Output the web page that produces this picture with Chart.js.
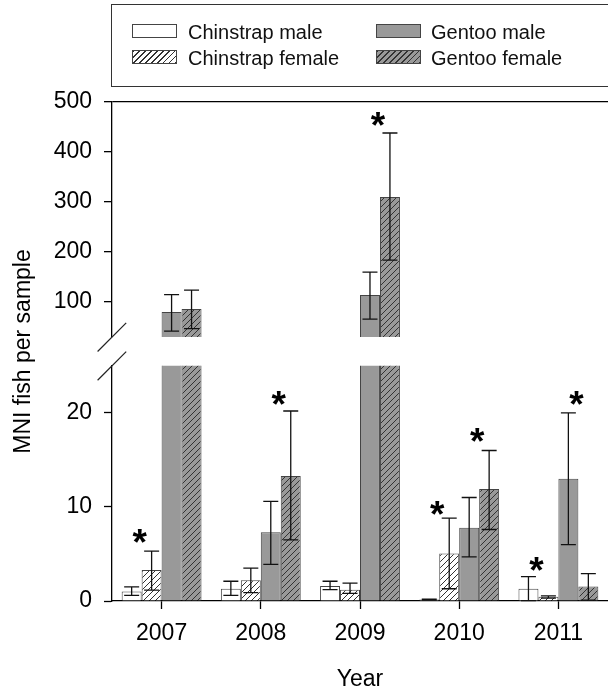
<!DOCTYPE html>
<html>
<head>
<meta charset="utf-8">
<script src="https://cdn.jsdelivr.net/npm/chart.js@4.4.1/dist/chart.umd.min.js"></script>
<style>
  body { margin: 0; background: #fff; overflow: hidden; font-family: 'Liberation Sans', Arial, sans-serif; }
  #wrap { position: absolute; left: 0; top: 0; width: 608px; height: 696px; }
  #legend { position: absolute; left: 111px; top: 4px; width: 530px; height: 83px; border: 1.5px solid #333; box-sizing: border-box; }
  .sw { position: absolute; width: 45px; height: 14px; border: 1px solid #444; box-sizing: border-box; }
  .lab { position: absolute; font-size: 20px; line-height: 20px; color: #111; white-space: nowrap; }
</style>
</head>
<body>
<div id="wrap"><canvas id="chart"></canvas></div>
<div id="legend">
  <div class="sw" style="left:20px; top:19px; background:#fff"></div>
  <div class="lab" style="left:76px; top:17px">Chinstrap male</div>
  <div class="sw" style="left:20px; top:45px; background:repeating-linear-gradient(135deg,#333 0 1px,#fff 1px 4.2px)"></div>
  <div class="lab" style="left:76px; top:43px">Chinstrap female</div>
  <div class="sw" style="left:264px; top:19px; background:#999"></div>
  <div class="lab" style="left:319px; top:17px">Gentoo male</div>
  <div class="sw" style="left:264px; top:45px; background:repeating-linear-gradient(135deg,#333 0 1px,#999 1px 4.2px)"></div>
  <div class="lab" style="left:319px; top:43px">Gentoo female</div>
</div>
<script>
const years = ['2007', '2008', '2009', '2010', '2011'];

const chinstrapMale = [1.0, 1.3, 1.6, 0.15, 1.3];
const chinstrapMaleLow = [0.6, 0.6, 1.2, 0.1, 0.05];
const chinstrapMaleHigh = [1.5, 2.1, 2.1, 0.2, 2.6];

const chinstrapFemale = [3.3, 2.2, 1.2, 5.05, 0.45];
const chinstrapFemaleLow = [1.15, 0.9, 0.8, 1.3, 0.3];
const chinstrapFemaleHigh = [5.3, 3.5, 1.9, 8.8, 0.55];

const gentooMale = [80, 7.3, 114, 7.8, 13.0];
const gentooMaleLow = [42, 3.9, 66, 4.7, 6.0];
const gentooMaleHigh = [115, 10.6, 160, 11.0, 20.0];

const gentooFemale = [86, 13.3, 310, 11.9, 1.55];
const gentooFemaleLow = [47, 6.5, 184, 7.6, 0.1];
const gentooFemaleHigh = [124, 20.2, 438, 16.0, 2.9];

// significant male/female differences
const starYears = ['2007', '2008', '2009', '2010', '2010', '2011', '2011'];
const starSpecies = ['Chinstrap', 'Gentoo', 'Gentoo', 'Chinstrap', 'Gentoo', 'Chinstrap', 'Gentoo'];
const starValues = [7.0, 21.7, 468, 10.0, 17.8, 4.05, 21.7];

const lowTicks = [0, 10, 20];
const highTicks = [100, 200, 300, 400, 500];
const lowMax = 25, highMin = 30, highMax = 500;

const FONT = "'Liberation Sans', Arial, sans-serif";

function hatch(bg) {
    const c = document.createElement('canvas');
    c.width = 6; c.height = 6;
    const g = c.getContext('2d');
    g.fillStyle = bg;
    g.fillRect(0, 0, 6, 6);
    g.strokeStyle = '#333';
    g.lineWidth = 1;
    g.beginPath();
    g.moveTo(0, 6); g.lineTo(6, 0);
    g.moveTo(-1, 1); g.lineTo(1, -1);
    g.moveTo(5, 7); g.lineTo(7, 5);
    g.stroke();
    return g.createPattern(c, 'repeat');
}

const series = [
    { name: 'Chinstrap male', species: 'Chinstrap', values: chinstrapMale, low: chinstrapMaleLow, high: chinstrapMaleHigh, fill: '#ffffff' },
    { name: 'Chinstrap female', species: 'Chinstrap', values: chinstrapFemale, low: chinstrapFemaleLow, high: chinstrapFemaleHigh, fill: hatch('#ffffff') },
    { name: 'Gentoo male', species: 'Gentoo', values: gentooMale, low: gentooMaleLow, high: gentooMaleHigh, fill: '#999999' },
    { name: 'Gentoo female', species: 'Gentoo', values: gentooFemale, low: gentooFemaleLow, high: gentooFemaleHigh, fill: hatch('#999999') }
];
const panels = ['yLow', 'yHigh'];

const datasets = [];
panels.forEach(axis => {
    series.forEach(s => {
        datasets.push({
            label: s.name,
            data: s.values,
            yAxisID: axis,
            stack: s.name,
            backgroundColor: s.fill,
            borderColor: '#444',
            borderWidth: 1,
            categoryPercentage: 0.805,
            barPercentage: 1.0
        });
    });
});

const errorBars = {
    id: 'errorBars',
    afterDatasetsDraw(chart) {
        const ctx = chart.ctx;
        const area = chart.chartArea;
        panels.forEach((axis, a) => {
            const scale = chart.scales[axis];
            ctx.save();
            ctx.beginPath();
            ctx.rect(area.left, scale.top - 1, area.right - area.left, scale.bottom - scale.top + 2);
            ctx.clip();
            ctx.strokeStyle = '#111';
            ctx.lineWidth = 1.3;
            series.forEach((s, k) => {
                const meta = chart.getDatasetMeta(a * series.length + k);
                meta.data.forEach((bar, i) => {
                    const x = bar.x;
                    const yHi = scale.getPixelForValue(s.high[i]);
                    const yLo = scale.getPixelForValue(s.low[i]);
                    ctx.beginPath();
                    ctx.moveTo(x, yLo); ctx.lineTo(x, yHi);
                    ctx.moveTo(x - 7.5, yHi); ctx.lineTo(x + 7.5, yHi);
                    ctx.moveTo(x - 7.5, yLo); ctx.lineTo(x + 7.5, yLo);
                    ctx.stroke();
                });
            });
            ctx.restore();
        });

        // asterisks between the male and female bars of a species
        ctx.save();
        ctx.fillStyle = '#000';
        ctx.font = 'bold 37px ' + FONT;
        ctx.textAlign = 'center';
        ctx.textBaseline = 'alphabetic';
        starYears.forEach((yr, j) => {
            const i = years.indexOf(yr);
            const first = series.findIndex(s => s.species === starSpecies[j]);
            const xm = chart.getDatasetMeta(first).data[i].x;
            const xf = chart.getDatasetMeta(first + 1).data[i].x;
            const v = starValues[j];
            const scale = v > lowMax ? chart.scales.yHigh : chart.scales.yLow;
            ctx.fillText('*', (xm + xf) / 2 - 2, scale.getPixelForValue(v) + 20);
        });
        ctx.restore();
    },
    afterDraw(chart) {
        const ctx = chart.ctx;
        const hi = chart.scales.yHigh, lo = chart.scales.yLow;
        const xA = lo.right;
        ctx.save();
        ctx.strokeStyle = '#222';
        ctx.lineWidth = 1.2;
        [hi.bottom, lo.top].forEach(y0 => {
            ctx.beginPath();
            ctx.moveTo(xA - 14.4, y0 + 14.4);
            ctx.lineTo(xA + 14.2, y0 - 14.2);
            ctx.stroke();
        });
        // y axis title centred over both panels
        ctx.fillStyle = '#000';
        ctx.font = '23px ' + FONT;
        ctx.textAlign = 'center';
        ctx.textBaseline = 'middle';
        ctx.translate(24, (hi.top + lo.bottom) / 2);
        ctx.rotate(-Math.PI / 2);
        ctx.fillText('MNI fish per sample', 0, 0);
        ctx.restore();
    }
};

const tickFont = { size: 23, family: FONT };

new Chart(document.getElementById('chart'), {
    type: 'bar',
    data: { labels: years, datasets: datasets },
    options: {
        responsive: true,
        maintainAspectRatio: false,
        animation: false,
        layout: { padding: { top: 102, left: 0, right: 0, bottom: 0 } },
        plugins: { legend: { display: false }, tooltip: { enabled: false } },
        scales: {
            x: {
                type: 'category',
                offset: true,
                grid: { display: true, offset: false, drawOnChartArea: false, tickLength: 8, tickColor: '#000', tickWidth: 1.3 },
                border: { display: true, color: '#000', width: 1.3 },
                ticks: { color: '#000', font: tickFont, padding: 11, maxRotation: 0 },
                title: { display: true, text: 'Year', color: '#000', font: tickFont, padding: { top: 10, bottom: 3 } },
                afterFit: s => { s.height = 95; }
            },
            yLow: {
                type: 'linear', position: 'left', stack: 'y', stackWeight: 234.7,
                min: 0, max: lowMax,
                afterBuildTicks: s => { s.ticks = lowTicks.map(v => ({ value: v })); },
                afterFit: s => { s.width = 112; },
                grid: { drawOnChartArea: false, tickLength: 8, tickColor: '#000', tickWidth: 1.3 },
                border: { color: '#000', width: 1.3 },
                ticks: { color: '#000', font: tickFont, padding: 12 }
            },
            yGap: {
                type: 'linear', position: 'left', stack: 'y', stackWeight: 28.7,
                afterFit: s => { s.width = 112; },
                ticks: { display: false },
                grid: { display: false },
                border: { display: false }
            },
            yHigh: {
                type: 'linear', position: 'left', stack: 'y', stackWeight: 234.6,
                min: highMin, max: highMax,
                afterBuildTicks: s => { s.ticks = highTicks.map(v => ({ value: v })); },
                afterFit: s => { s.width = 112; },
                grid: {
                    drawOnChartArea: true, tickLength: 8, tickColor: '#000', tickWidth: 1.3, lineWidth: 1.3,
                    color: c => (c.tick && c.tick.value === highMax) ? '#000' : 'rgba(0,0,0,0)'
                },
                border: { color: '#000', width: 1.3 },
                ticks: { color: '#000', font: tickFont, padding: 12 }
            }
        }
    },
    plugins: [errorBars]
});
</script>
</body>
</html>
